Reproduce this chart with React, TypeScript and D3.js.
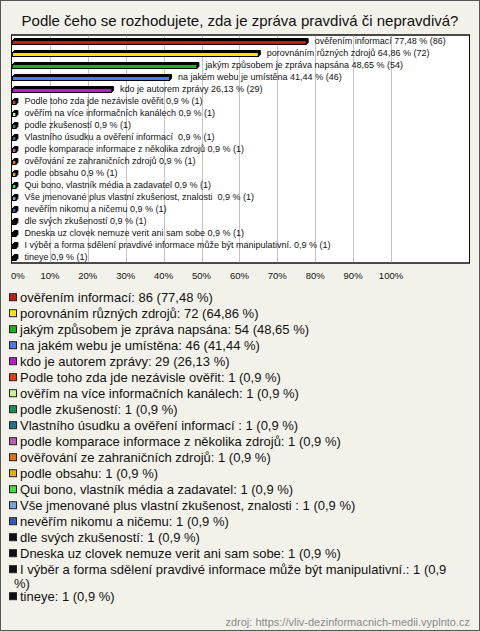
import React from "react";
import * as d3 from "d3";

const title = "Podle čeho se rozhodujete, zda je zpráva pravdivá či nepravdivá?";
const categories = [
  "ověřením informací",
  "porovnáním různých zdrojů",
  "jakým způsobem je zpráva napsána",
  "na jakém webu je umístěna",
  "kdo je autorem zprávy",
  "Podle toho zda jde nezávisle ověřit",
  "ověřím na více informačních kanálech",
  "podle zkušeností",
  "Vlastního úsudku a ověření informací ",
  "podle komparace informace z několika zdrojů",
  "ověřování ze zahraničních zdrojů",
  "podle obsahu",
  "Qui bono, vlastník média a zadavatel",
  "Vše jmenované plus vlastní zkušenost, znalosti ",
  "nevěřím nikomu a ničemu",
  "dle svých zkušeností",
  "Dneska uz clovek nemuze verit ani sam sobe",
  "I výběr a forma sdělení pravdivé informace může být manipulativní.",
  "tineye",
];
const counts = [86, 72, 54, 46, 29, 1, 1, 1, 1, 1, 1, 1, 1, 1, 1, 1, 1, 1, 1];
const percents = [77.48, 64.86, 48.65, 41.44, 26.13, 0.9, 0.9, 0.9, 0.9, 0.9, 0.9, 0.9, 0.9, 0.9, 0.9, 0.9, 0.9, 0.9, 0.9];
const colors = [
  "#c0210d", "#ffe400", "#19b41a", "#4d7bf0", "#c01ad0", "#e0420f", "#c8f58c",
  "#18905c", "#1f7690", "#c05ab8", "#e5700f", "#e5b000", "#44e040", "#78a2e0",
  "#3558c0", "#111111", "#111111", "#111111", "#111111",
];
const tickValues = [0, 10, 20, 30, 40, 50, 60, 70, 80, 90, 100];
const source = "zdroj: https://vliv-dezinformacnich-medii.vyplnto.cz";

const W = 480;
const H = 631;
const FONT = "'Liberation Sans', Arial, sans-serif";
const plot = { left: 11.5, right: 469.5, top: 35, bottom: 263 };

const fmt = (p: number) => String(p).replace(".", ",");

function wrapText(text: string, maxW: number, font: string): string[] {
  const canvas = document.createElement("canvas");
  const ctx = canvas.getContext("2d");
  if (!ctx) return [text];
  ctx.font = font;
  const words = text.split(" ");
  const lines: string[] = [];
  let cur = "";
  for (const w of words) {
    const test = cur === "" ? w : cur + " " + w;
    if (ctx.measureText(test).width > maxW && cur !== "") {
      lines.push(cur);
      cur = w;
    } else cur = test;
  }
  if (cur !== "") lines.push(cur);
  return lines;
}

export default function App() {
  const x = d3.scaleLinear().domain([0, 100]).range([12, 391]);
  const y = d3
    .scaleBand<number>()
    .domain(d3.range(categories.length))
    .range([plot.top, plot.bottom])
    .padding(0);
  const barH = 4;
  const depth = 2;

  const legendItems: { lines: string[]; cy: number; color: string }[] = [];
  let cy = 297.7;
  categories.forEach((c, i) => {
    const txt = `${c}: ${counts[i]} (${fmt(percents[i])} %)`;
    const lines = wrapText(txt, 445, `13px ${FONT}`);
    legendItems.push({ lines, cy, color: colors[i] });
    cy += 16 + (lines.length - 1) * 11;
  });

  return (
    <svg
      width={W}
      height={H}
      style={{ position: "absolute", left: 0, top: 0, display: "block" }}
      fontFamily={FONT}
    >
      <rect x={0.5} y={0.5} width={W - 1} height={H - 1} fill="#f3f2ea" stroke="#555" />
      <text x={W / 2} y={26} textAnchor="middle" fontSize={15} fill="#111">
        {title}
      </text>
      <rect
        x={plot.left}
        y={plot.top}
        width={plot.right - plot.left}
        height={plot.bottom - plot.top}
        fill="#fff"
        stroke="#111"
      />
      {tickValues.slice(1).map((t) => (
        <line
          key={t}
          x1={Math.round(x(t)) + 0.5}
          x2={Math.round(x(t)) + 0.5}
          y1={plot.top}
          y2={plot.bottom}
          stroke="#c4c4c4"
        />
      ))}
      {categories.map((c, i) => {
        const mid = (y(i) as number) + y.bandwidth() / 2;
        const y0 = Math.round(mid - barH / 2 + 1) + 0.5;
        const x0 = x(0) + 0.5;
        const w = x(percents[i]) - x(0);
        const pts = [
          [x0, y0],
          [x0 + depth, y0 - depth],
          [x0 + w + depth, y0 - depth],
          [x0 + w + depth, y0 + barH - depth],
          [x0 + w, y0 + barH],
          [x0 + w, y0],
        ]
          .map((p) => p.join(","))
          .join(" ");
        return (
          <g key={i}>
            <polygon points={pts} fill="#000" stroke="#000" strokeWidth={1} />
            <rect x={x0} y={y0} width={w} height={barH} fill={colors[i]} stroke="#000" strokeWidth={1} />
            <text
              x={x(percents[i]) + 9}
              y={mid + 3.3}
              fontSize={9}
              fill="#111"
              style={{ whiteSpace: "pre" }}
            >
              {`${c} ${fmt(percents[i])} % (${counts[i]})`}
            </text>
          </g>
        );
      })}
      <rect
        x={plot.left}
        y={plot.top}
        width={plot.right - plot.left}
        height={plot.bottom - plot.top}
        fill="none"
        stroke="#111"
      />
      {tickValues.map((t) => (
        <text
          key={t}
          x={t === 0 ? 11 : x(t)}
          y={279}
          textAnchor={t === 0 ? "start" : "middle"}
          fontSize={9.5}
          fill="#111"
        >
          {`${t}%`}
        </text>
      ))}
      {legendItems.map((it, i) => (
        <g key={i}>
          <rect x={9.5} y={it.cy - 4} width={7} height={7} fill={it.color} stroke="#222" />
          {it.lines.map((ln, j) => (
            <text
              key={j}
              x={j === 0 ? 20 : 14}
              y={it.cy + 4.6 + j * 14}
              fontSize={13}
              fill="#111"
              style={{ whiteSpace: "pre" }}
            >
              {ln}
            </text>
          ))}
        </g>
      ))}
      <text x={470} y={626} textAnchor="end" fontSize={11} fill="#8a8a8a">
        {source}
      </text>
    </svg>
  );
}
